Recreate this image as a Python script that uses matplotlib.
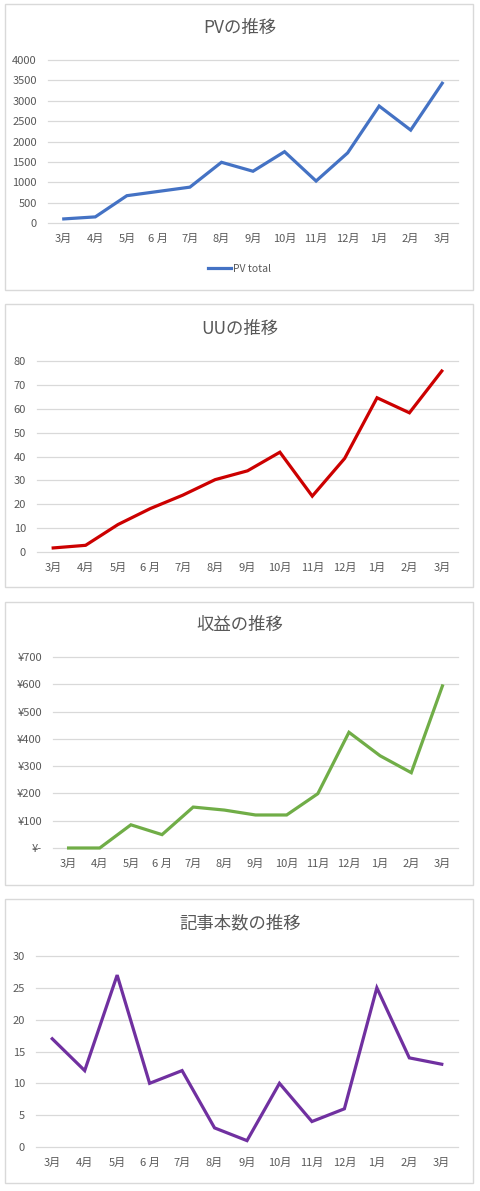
import numpy as np
import matplotlib
matplotlib.use('Agg')
import matplotlib.pyplot as plt
from matplotlib.patches import Rectangle

plt.rcParams['font.family'] = ['Noto Sans CJK JP', 'DejaVu Sans']

months = ['3月', '4月', '5月', '6 月', '7月', '8月', '9月', '10月', '11月', '12月', '1月', '2月', '3月']

pv = [100, 150, 670, 775, 880, 1490, 1270, 1750, 1030, 1720, 2870, 2280, 3430]
uu = [1.7, 2.8, 11.5, 18.2, 23.8, 30.3, 34, 41.8, 23.4, 39.2, 64.6, 58.3, 75.8]
revenue = [0, 0, 85, 49, 150, 139, 121, 121, 199, 424, 338, 276, 594]
articles = [17, 12, 27, 10, 12, 3, 1, 10, 4, 6, 25, 14, 13]

W, H = 480, 1191
txt = '#595959'
grid = '#D9D9D9'

fig = plt.figure(figsize=(W / 100, H / 100), dpi=100)


def fx(x):
    return x / W


def fy(y):
    return 1 - y / H


def panel(box, axbox, title, title_y, values, color, yticks, fmt=None):
    # outer frame of the chart
    x0, y0, x1, y1 = box
    fig.patches.append(Rectangle((fx(x0), fy(y1)), fx(x1 - x0), (y1 - y0) / H,
                                 transform=fig.transFigure, fill=False,
                                 edgecolor=grid, lw=1.0))
    fig.text(0.5, fy(title_y), title, ha='center', va='center', fontsize=12.5, color=txt)

    l, t, r, b = axbox
    ax = fig.add_axes([fx(l), fy(b), fx(r - l), (b - t) / H])
    x = np.arange(len(values))
    line, = ax.plot(x, values, color=color, lw=2.3, solid_joinstyle='miter', clip_on=False, zorder=3)
    ax.set_xlim(-0.5, len(values) - 0.5)
    ax.set_ylim(yticks[0], yticks[-1])
    ax.set_yticks(yticks)
    if fmt:
        ax.set_yticklabels([fmt(v) for v in yticks])
    ax.set_xticks(x)
    ax.set_xticklabels(months)
    ax.grid(axis='y', color=grid, lw=0.9)
    for gl in ax.get_ygridlines():
        gl.set_clip_on(False)
    ax.set_axisbelow(True)
    for s in ['top', 'right', 'left', 'bottom']:
        ax.spines[s].set_visible(False)
    ax.tick_params(length=0, labelsize=8, colors=txt)
    ax.tick_params(axis='y', pad=8)
    ax.tick_params(axis='x', pad=7.5)
    return ax, line


ax1, l1 = panel((5, 4, 473, 290), (48, 60, 458, 223), 'PVの推移', 28, pv, '#4472C4',
                [0, 500, 1000, 1500, 2000, 2500, 3000, 3500, 4000])
ax1.legend([l1], ['PV total'], loc='center', bbox_to_anchor=(0.5, fy(269)),
           bbox_transform=fig.transFigure, frameon=False, fontsize=7.5,
           labelcolor=txt, handlelength=2.2, handletextpad=0.2)

panel((5, 304, 473, 587), (37, 361, 458, 552), 'UUの推移', 329, uu, '#CC0000',
      [0, 10, 20, 30, 40, 50, 60, 70, 80])

panel((5, 602, 473, 885), (53, 657, 458, 848), '収益の推移', 625, revenue, '#70AD47',
      [0, 100, 200, 300, 400, 500, 600, 700],
      fmt=lambda v: '¥-' if v == 0 else '¥%d' % v)

panel((5, 899, 473, 1183), (36, 956, 458, 1147), '記事本数の推移', 923, articles, '#7030A0',
      [0, 5, 10, 15, 20, 25, 30])

fig.savefig('out.png', dpi=100, facecolor='white')
